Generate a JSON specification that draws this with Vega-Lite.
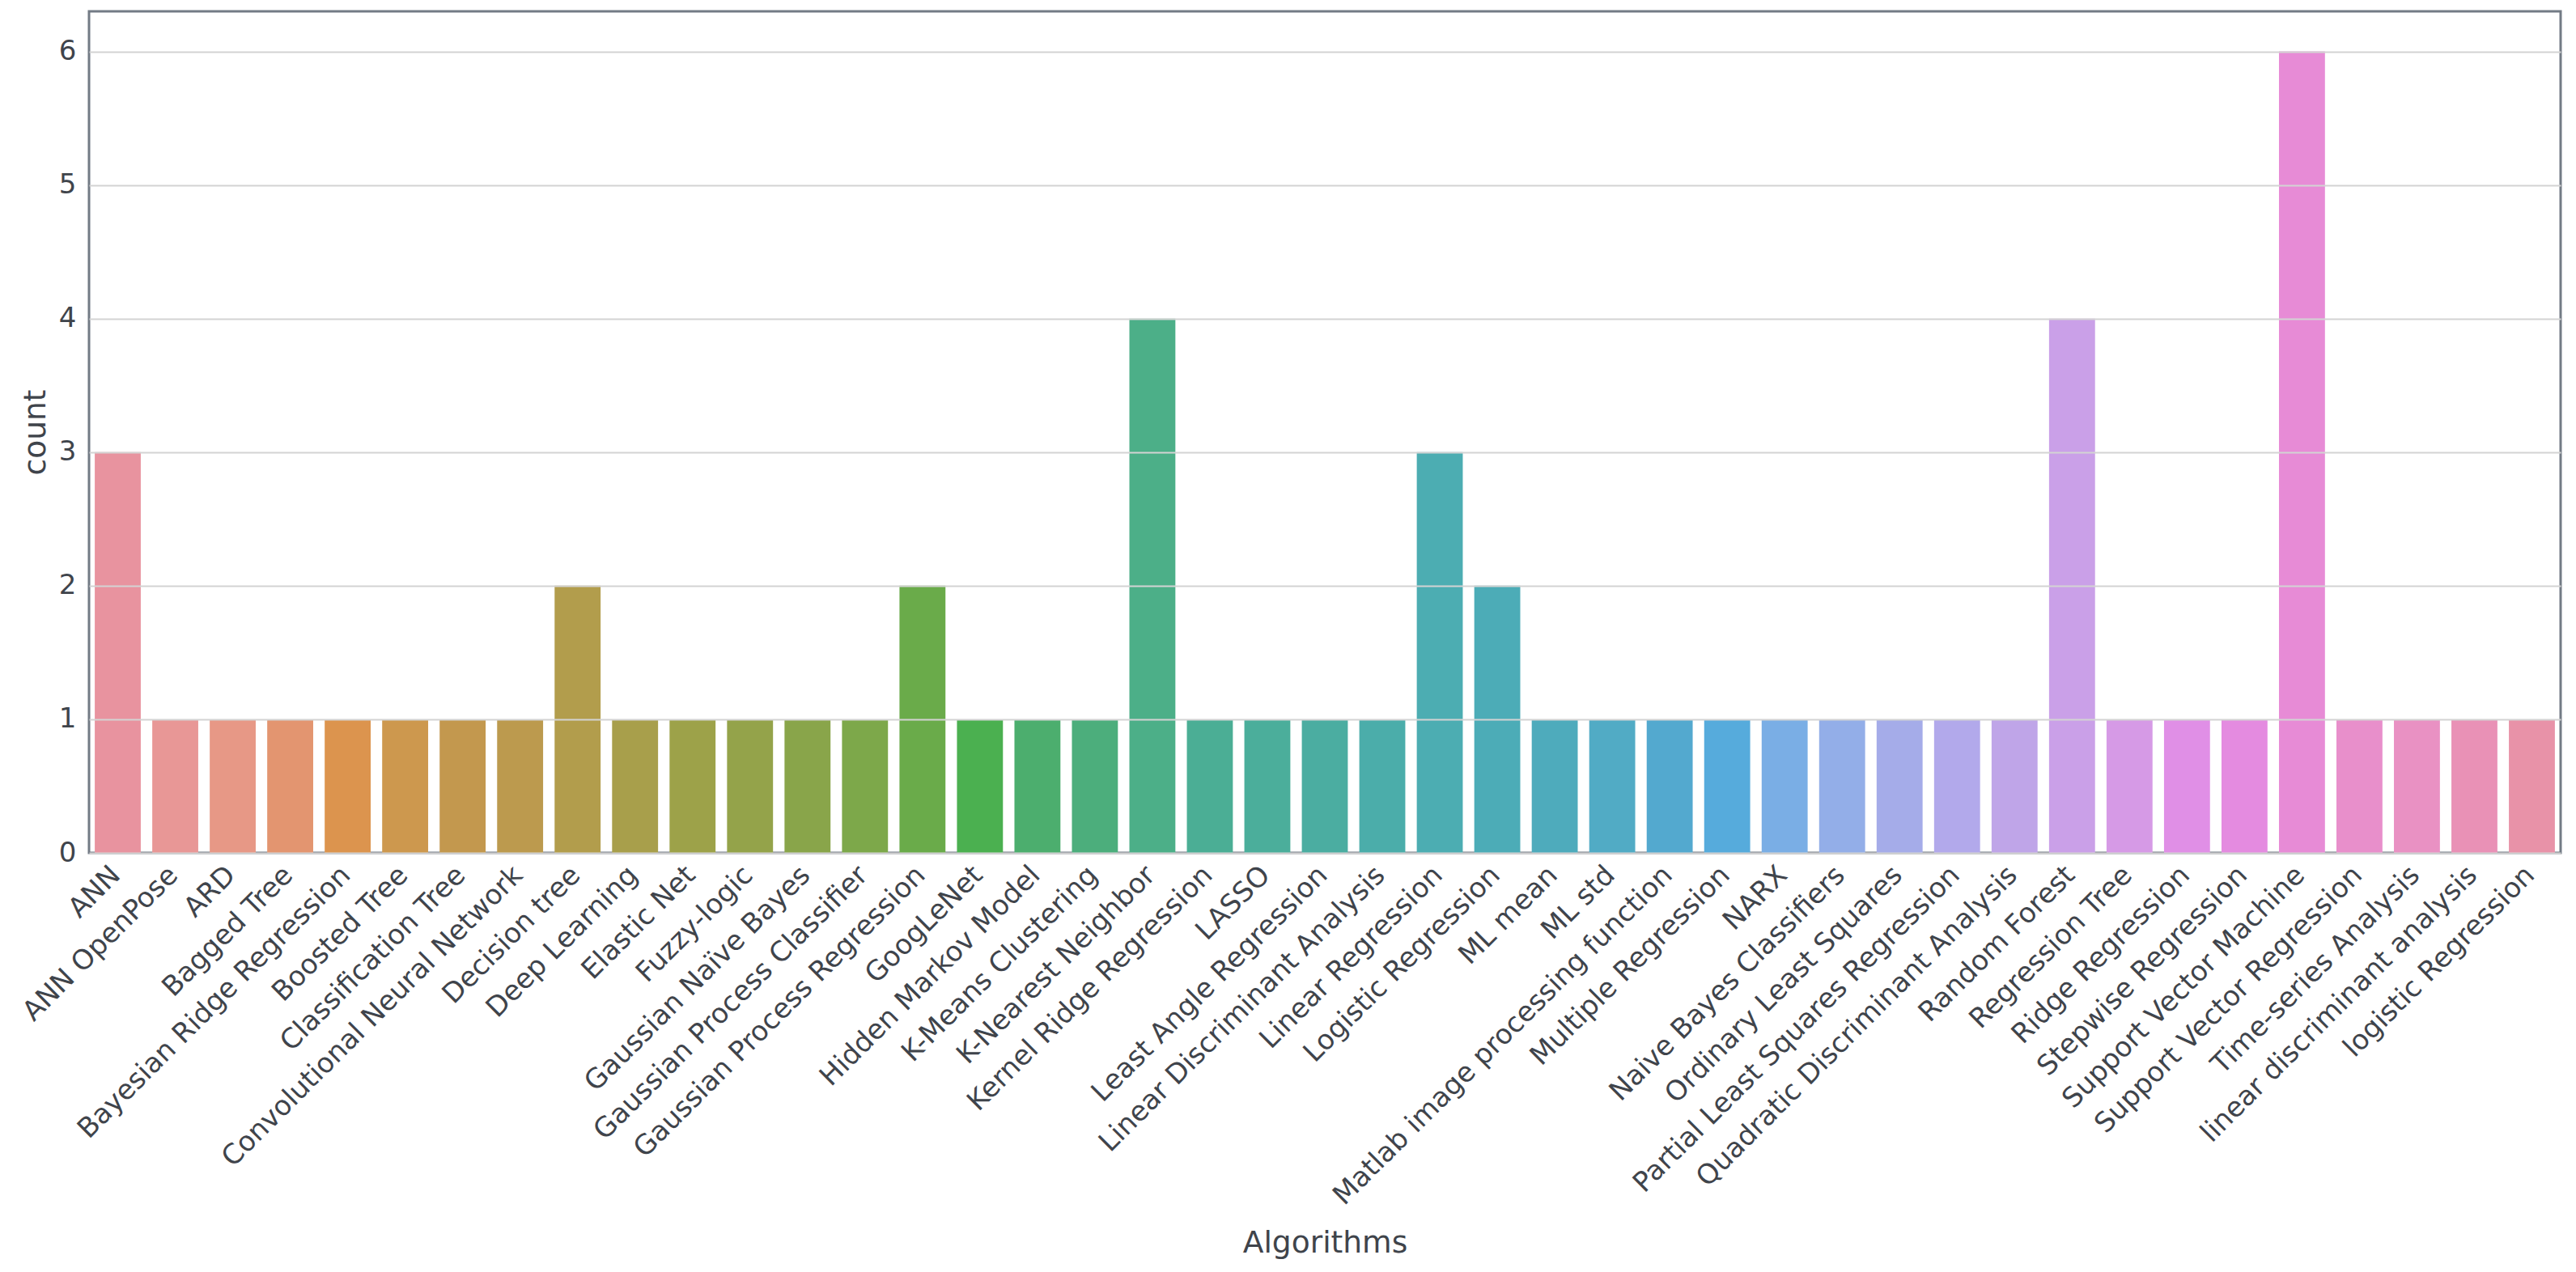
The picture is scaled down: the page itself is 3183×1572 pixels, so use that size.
{
  "$schema": "https://vega.github.io/schema/vega-lite/v6.json",
  "autosize": {"type": "none"},
  "width": 3054,
  "height": 1040,
  "padding": {"left": 110, "top": 14, "right": 19, "bottom": 518},
  "background": "white",
  "config": {
    "font": "DejaVu Sans",
    "view": {"stroke": "#737b85", "strokeWidth": 3},
    "axis": {
      "labelFont": "DejaVu Sans",
      "titleFont": "DejaVu Sans",
      "labelFontSize": 34,
      "titleFontSize": 37.6,
      "labelColor": "#3f444b",
      "titleColor": "#3f444b",
      "titleFontWeight": "normal",
      "labelLimit": 0,
      "ticks": false,
      "domain": false
    }
  },
  "data": {
    "values": [
      {"Algorithm": "ANN", "count": 3},
      {"Algorithm": "ANN OpenPose", "count": 1},
      {"Algorithm": "ARD", "count": 1},
      {"Algorithm": "Bagged Tree", "count": 1},
      {"Algorithm": "Bayesian Ridge Regression", "count": 1},
      {"Algorithm": "Boosted Tree", "count": 1},
      {"Algorithm": "Classification Tree", "count": 1},
      {"Algorithm": "Convolutional Neural Network", "count": 1},
      {"Algorithm": "Decision tree", "count": 2},
      {"Algorithm": "Deep Learning", "count": 1},
      {"Algorithm": "Elastic Net", "count": 1},
      {"Algorithm": "Fuzzy-logic", "count": 1},
      {"Algorithm": "Gaussian Naïve Bayes", "count": 1},
      {"Algorithm": "Gaussian Process Classifier", "count": 1},
      {"Algorithm": "Gaussian Process Regression", "count": 2},
      {"Algorithm": "GoogLeNet", "count": 1},
      {"Algorithm": "Hidden Markov Model", "count": 1},
      {"Algorithm": "K-Means Clustering", "count": 1},
      {"Algorithm": "K-Nearest Neighbor", "count": 4},
      {"Algorithm": "Kernel Ridge Regression", "count": 1},
      {"Algorithm": "LASSO", "count": 1},
      {"Algorithm": "Least Angle Regression", "count": 1},
      {"Algorithm": "Linear Discriminant Analysis", "count": 1},
      {"Algorithm": "Linear Regression", "count": 3},
      {"Algorithm": "Logistic Regression", "count": 2},
      {"Algorithm": "ML mean", "count": 1},
      {"Algorithm": "ML std", "count": 1},
      {"Algorithm": "Matlab image processing function", "count": 1},
      {"Algorithm": "Multiple Regression", "count": 1},
      {"Algorithm": "NARX", "count": 1},
      {"Algorithm": "Naive Bayes Classifiers", "count": 1},
      {"Algorithm": "Ordinary Least Squares", "count": 1},
      {"Algorithm": "Partial Least Squares Regression", "count": 1},
      {"Algorithm": "Quadratic Discriminant Analysis", "count": 1},
      {"Algorithm": "Random Forest", "count": 4},
      {"Algorithm": "Regression Tree", "count": 1},
      {"Algorithm": "Ridge Regression", "count": 1},
      {"Algorithm": "Stepwise Regression", "count": 1},
      {"Algorithm": "Support Vector Machine", "count": 6},
      {"Algorithm": "Support Vector Regression", "count": 1},
      {"Algorithm": "Time-series Analysis", "count": 1},
      {"Algorithm": "linear discriminant analysis", "count": 1},
      {"Algorithm": "logistic Regression", "count": 1}
    ]
  },
  "mark": {"type": "bar"},
  "encoding": {
    "x": {
      "field": "Algorithm",
      "type": "nominal",
      "sort": null,
      "scale": {"paddingInner": 0.2, "paddingOuter": 0.1},
      "axis": {
        "title": "Algorithms",
        "labelAngle": -45,
        "labelAlign": "right",
        "labelBaseline": "top",
        "labelPadding": 10,
        "labelOffset": -14,
        "titleY": 493,
        "titleBaseline": "alphabetic",
        "grid": false
      }
    },
    "y": {
      "field": "count",
      "type": "quantitative",
      "scale": {"domain": [0, 6.3], "nice": false},
      "axis": {
        "title": "count",
        "values": [0, 1, 2, 3, 4, 5, 6],
        "labelPadding": 16,
        "titleX": -55,
        "titleBaseline": "alphabetic",
        "grid": true,
        "gridColor": "#d3d3d3",
        "gridWidth": 2,
        "zindex": 1
      }
    },
    "color": {
      "field": "Algorithm",
      "type": "nominal",
      "legend": null,
      "scale": {
        "domain": ["ANN", "ANN OpenPose", "ARD", "Bagged Tree", "Bayesian Ridge Regression", "Boosted Tree", "Classification Tree", "Convolutional Neural Network", "Decision tree", "Deep Learning", "Elastic Net", "Fuzzy-logic", "Gaussian Naïve Bayes", "Gaussian Process Classifier", "Gaussian Process Regression", "GoogLeNet", "Hidden Markov Model", "K-Means Clustering", "K-Nearest Neighbor", "Kernel Ridge Regression", "LASSO", "Least Angle Regression", "Linear Discriminant Analysis", "Linear Regression", "Logistic Regression", "ML mean", "ML std", "Matlab image processing function", "Multiple Regression", "NARX", "Naive Bayes Classifiers", "Ordinary Least Squares", "Partial Least Squares Regression", "Quadratic Discriminant Analysis", "Random Forest", "Regression Tree", "Ridge Regression", "Stepwise Regression", "Support Vector Machine", "Support Vector Regression", "Time-series Analysis", "linear discriminant analysis", "logistic Regression"],
        "range": ["#e8939f", "#e89796", "#e79886", "#e39570", "#dc944e", "#cd984e", "#c3984e", "#bc9a4e", "#b29d4c", "#a89f4b", "#9da249", "#94a34a", "#89a54a", "#7da84a", "#6aab4a", "#4bb050", "#4cae6e", "#4cae7c", "#4caf88", "#4bae95", "#4bae9b", "#4bada1", "#4badaa", "#4cadb2", "#4cacb7", "#4eabbc", "#51abc5", "#53a9cf", "#56abdc", "#7aaee5", "#93aee8", "#a5ace9", "#b2a9eb", "#bfa5e8", "#caa0e8", "#d69ae6", "#e08fe6", "#e48be0", "#e78bd6", "#e88fcb", "#e991c3", "#e991b6", "#e892a8"]
      }
    }
  }
}
